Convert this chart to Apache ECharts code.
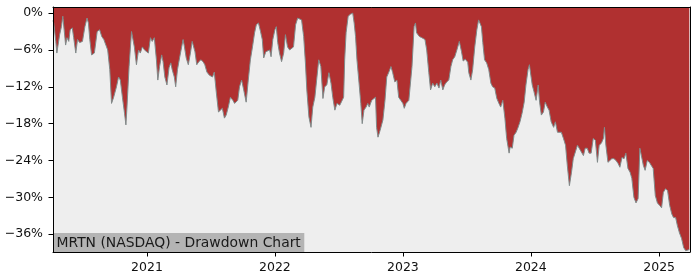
<!DOCTYPE html>
<html>
<head>
<meta charset="utf-8">
<script src="https://cdn.jsdelivr.net/npm/echarts@6/dist/echarts.min.js"></script>
<style>html,body{margin:0;padding:0;background:#fff}#c{width:700px;height:280px}</style>
</head>
<body>
<div id="c"></div>
<script>
// Drawdown (%)
const dates = [
'2020-04-08','2020-04-10','2020-04-16','2020-04-19','2020-04-23','2020-04-27','2020-05-02','2020-05-06','2020-05-10','2020-05-14',
'2020-05-18','2020-05-23','2020-05-27','2020-06-02','2020-06-06','2020-06-12','2020-06-17','2020-06-23','2020-07-01','2020-07-08',
'2020-07-14','2020-07-18','2020-07-22','2020-07-27','2020-08-04','2020-08-12','2020-08-19','2020-08-25','2020-08-31','2020-09-05',
'2020-09-11','2020-09-17','2020-09-22','2020-09-28','2020-10-06','2020-10-12','2020-10-17','2020-10-23','2020-10-29','2020-11-02',
'2020-11-05','2020-11-11','2020-11-18','2020-11-22','2020-11-26','2020-12-02','2020-12-08','2020-12-13','2020-12-19','2020-12-25',
'2020-12-30','2021-01-05','2021-01-11','2021-01-16','2021-01-22','2021-01-28','2021-02-01','2021-02-06','2021-02-12','2021-02-16',
'2021-02-21','2021-02-27','2021-03-05','2021-03-10','2021-03-14','2021-03-20','2021-03-24','2021-03-29','2021-04-04','2021-04-10',
'2021-04-14','2021-04-18','2021-04-23','2021-04-29','2021-05-05','2021-05-10','2021-05-14','2021-05-18','2021-05-23','2021-05-29',
'2021-06-04','2021-06-10','2021-06-15','2021-06-21','2021-06-28','2021-07-07','2021-07-12','2021-07-18','2021-07-24','2021-07-29',
'2021-08-04','2021-08-10','2021-08-15','2021-08-21','2021-08-27','2021-09-03','2021-09-08','2021-09-17','2021-09-22','2021-09-28',
'2021-10-04','2021-10-11','2021-10-17','2021-10-23','2021-10-29','2021-11-04','2021-11-09','2021-11-15','2021-11-21','2021-11-26',
'2021-11-30','2021-12-06','2021-12-11','2021-12-17','2021-12-21','2021-12-26','2022-01-01','2022-01-05','2022-01-09','2022-01-14',
'2022-01-20','2022-01-26','2022-01-31','2022-02-06','2022-02-12','2022-02-17','2022-02-23','2022-03-01','2022-03-07','2022-03-12',
'2022-03-18','2022-03-24','2022-03-29','2022-04-02','2022-04-08','2022-04-14','2022-04-19','2022-04-25','2022-04-30','2022-05-06',
'2022-05-12','2022-05-18','2022-05-23','2022-05-29','2022-06-04','2022-06-10','2022-06-15','2022-06-21','2022-06-27','2022-07-05',
'2022-07-10','2022-07-16','2022-07-19','2022-07-23','2022-07-29','2022-08-04','2022-08-11','2022-08-15','2022-08-19','2022-08-23',
'2022-08-29','2022-09-03','2022-09-07','2022-09-12','2022-09-18','2022-09-23','2022-09-27','2022-10-04','2022-10-09','2022-10-15',
'2022-10-18','2022-10-22','2022-10-28','2022-11-05','2022-11-11','2022-11-16','2022-11-22','2022-11-28','2022-12-03','2022-12-09',
'2022-12-15','2022-12-20','2022-12-26','2023-01-01','2023-01-05','2023-01-10','2023-01-18','2023-01-23','2023-01-27','2023-02-02',
'2023-02-06','2023-02-09','2023-02-17','2023-02-24','2023-03-05','2023-03-10','2023-03-16','2023-03-21','2023-03-27','2023-04-02',
'2023-04-08','2023-04-14','2023-04-19','2023-04-25','2023-04-30','2023-05-06','2023-05-12','2023-05-18','2023-05-23','2023-05-29',
'2023-06-04','2023-06-11','2023-06-17','2023-06-22','2023-06-28','2023-07-05','2023-07-08','2023-07-14','2023-07-19','2023-07-25',
'2023-07-31','2023-08-05','2023-08-09','2023-08-13','2023-08-17','2023-08-22','2023-08-28','2023-09-03','2023-09-09','2023-09-14',
'2023-09-20','2023-09-26','2023-10-02','2023-10-07','2023-10-13','2023-10-19','2023-10-24','2023-10-31','2023-11-03','2023-11-09',
'2023-11-14','2023-11-20','2023-11-25','2023-12-01','2023-12-07','2023-12-13','2023-12-18','2023-12-24','2023-12-28','2024-01-01',
'2024-01-05','2024-01-10','2024-01-16','2024-01-22','2024-01-26','2024-01-31','2024-02-06','2024-02-11','2024-02-17','2024-02-22',
'2024-02-28','2024-03-06','2024-03-11','2024-03-17','2024-03-22','2024-03-28','2024-04-03','2024-04-09','2024-04-14','2024-04-20',
'2024-04-26','2024-05-01','2024-05-07','2024-05-13','2024-05-18','2024-05-24','2024-05-30','2024-06-04','2024-06-10','2024-06-15',
'2024-06-21','2024-06-27','2024-07-03','2024-07-09','2024-07-14','2024-07-20','2024-07-26','2024-07-29','2024-08-02','2024-08-08',
'2024-08-13','2024-08-19','2024-08-25','2024-08-31','2024-09-06','2024-09-11','2024-09-17','2024-09-23','2024-09-28','2024-10-04',
'2024-10-10','2024-10-15','2024-10-21','2024-10-27','2024-11-02','2024-11-07','2024-11-11','2024-11-17','2024-11-22','2024-11-28',
'2024-12-04','2024-12-09','2024-12-15','2024-12-21','2024-12-27','2025-01-02','2025-01-08','2025-01-13','2025-01-19','2025-01-25',
'2025-01-31','2025-02-06','2025-02-11','2025-02-17','2025-02-22','2025-02-28','2025-03-06','2025-03-12','2025-03-18','2025-03-23',
'2025-03-28'
];
const drawdown = [
-1.2,-1.6,-4.6,-6.5,-6.8,-3.5,-2.2,-0.5,-0.2,-5.2,
-4.0,-4.6,-2.7,-2.4,-4.0,-6.5,-4.3,-4.8,-4.6,-2.2,
-0.8,-1.6,-4.3,-6.8,-6.5,-3.0,-2.7,-3.8,-4.3,-4.6,
-6.0,-9.2,-14.7,-13.7,-12.0,-10.4,-10.9,-13.7,-16.3,-18.2,
-15.3,-8.7,-3.0,-3.2,-5.5,-8.4,-6.0,-6.5,-5.5,-6.0,
-5.7,-6.5,-4.0,-4.6,-4.0,-7.6,-10.9,-8.7,-6.8,-7.9,
-10.4,-11.7,-8.9,-8.1,-9.2,-10.4,-12.0,-9.2,-7.3,-5.5,
-4.3,-5.5,-7.3,-8.4,-6.5,-4.6,-4.8,-6.3,-8.4,-7.9,
-7.6,-7.9,-8.4,-9.6,-10.1,-10.4,-9.6,-13.0,-16.1,-16.3,
-15.5,-17.1,-16.6,-15.3,-13.7,-14.2,-14.7,-14.2,-12.0,-10.9,
-12.5,-14.5,-10.9,-7.6,-5.5,-3.2,-1.9,-1.6,-3.0,-4.3,
-7.3,-6.3,-6.3,-6.0,-7.1,-4.3,-2.7,-2.2,-4.8,-6.5,
-7.9,-6.5,-3.5,-5.5,-6.0,-6.3,-5.5,-1.9,-0.8,-0.5,
-1.1,-3.8,-8.1,-12.5,-16.9,-18.6,-15.3,-13.7,-10.9,-7.6,
-8.7,-13.9,-12.0,-11.7,-9.7,-11.4,-13.7,-15.8,-14.7,-15.0,
-14.7,-13.7,-7.6,-3.2,-0.5,-0.2,0,-1.6,-3.8,-7.6,
-11.4,-14.7,-18.0,-15.8,-15.3,-14.7,-15.3,-14.2,-13.9,-13.7,
-18.6,-20.2,-19.1,-17.4,-14.2,-10.4,-9.6,-8.7,-9.7,-11.2,
-10.9,-13.7,-14.2,-14.7,-15.5,-14.7,-14.2,-13.9,-8.7,-2.2,
-1.6,-3.2,-3.8,-4.0,-4.3,-6.0,-9.7,-12.5,-11.4,-12.0,
-11.4,-12.2,-10.9,-12.5,-11.7,-11.2,-10.9,-8.7,-7.6,-7.1,
-6.0,-4.6,-6.2,-7.8,-7.5,-8.0,-9.7,-10.9,-9.2,-5.5,
-2.7,-1.1,-0.8,-2.2,-4.8,-7.6,-8.1,-9.2,-11.4,-12.0,
-12.2,-13.9,-14.7,-15.3,-14.2,-17.1,-20.4,-22.8,-21.8,-22.0,
-19.9,-19.4,-18.7,-17.7,-16.3,-14.5,-11.7,-9.2,-8.4,-10.1,
-11.7,-12.8,-14.2,-11.7,-14.5,-16.6,-16.1,-14.5,-15.3,-15.8,
-17.7,-18.6,-17.7,-19.4,-19.6,-19.4,-20.4,-21.5,-24.8,-28.1,
-25.9,-23.7,-22.6,-21.5,-21.2,-22.6,-23.2,-22.0,-22.0,-22.8,
-22.8,-20.4,-20.7,-24.3,-21.5,-21.2,-20.4,-18.6,-21.5,-24.3,
-24.5,-23.7,-23.7,-24.0,-24.5,-25.1,-23.5,-23.7,-22.8,-25.3,
-25.9,-26.9,-30.0,-30.9,-30.2,-22.0,-22.0,-24.8,-25.6,-24.0,
-24.3,-24.3,-25.3,-29.7,-30.9,-31.3,-31.7,-29.2,-28.6,-28.9,
-31.3,-32.7,-33.3,-33.3,-34.6,-35.8,-36.7,-38.2,-38.7,-38.7,
-38.5
];
const yTicks = [0, -6, -12, -18, -24, -30, -36];
const xTicks = ['2021-01-01', '2022-01-01', '2023-01-01', '2024-01-01', '2025-01-01'];
const xRange = ['2020-04-08', '2025-03-30'];
const yRange = [-38.9, 1.0];
const titleText = 'MRTN (NASDAQ) - Drawdown Chart';

const P = s => Date.parse(s + 'T00:00:00Z');
const seriesData = dates.map((d, i) => [P(d), drawdown[i]]);
const font = 'DejaVu Sans';
const chart = echarts.init(document.getElementById('c'), null, {renderer: 'canvas'});
const fmtPct = v => (v < 0 ? '\u2212' : '') + Math.abs(v) + '%';
chart.setOption({
  animation: false,
  backgroundColor: '#ffffff',
  grid: {left: 53, right: 10, top: 7, bottom: 28, show: true, backgroundColor: '#eeeeee', borderWidth: 0, containLabel: false},
  title: {
    text: titleText, left: 53, bottom: 28, backgroundColor: '#b4b4b4', padding: [3, 3.5, 2, 3.5],
    textStyle: {fontFamily: font, fontSize: 13.9, fontWeight: 'normal', color: '#1a1a1a', lineHeight: 14}, z: 10
  },
  xAxis: [{
    type: 'value', min: P(xRange[0]), max: P(xRange[1]), z: 10, scale: true,
    axisLine: {show: true, onZero: false, lineStyle: {color: '#000', width: 1}},
    axisTick: {show: true, length: 4.5, lineStyle: {color: '#000', width: 1}, customValues: xTicks.map(P)},
    axisLabel: {customValues: xTicks.map(P), formatter: v => String(new Date(v).getUTCFullYear()), margin: 9,
      fontFamily: font, fontSize: 12.5, color: '#111'},
    splitLine: {show: false}
  }, {
    type: 'value', position: 'top', min: P(xRange[0]), max: P(xRange[1]), z: 10, scale: true,
    axisLine: {show: true, onZero: false, lineStyle: {color: '#000', width: 1}},
    axisTick: {show: false}, axisLabel: {show: false}, splitLine: {show: false}
  }],
  yAxis: [{
    type: 'value', min: yRange[0], max: yRange[1], z: 10, position: 'left',
    axisLine: {show: true, onZero: false, lineStyle: {color: '#000', width: 1}},
    axisTick: {show: true, length: 4.5, lineStyle: {color: '#000', width: 1}, customValues: yTicks},
    axisLabel: {customValues: yTicks, formatter: fmtPct, margin: 10, fontFamily: font, fontSize: 12.5, color: '#111'},
    splitLine: {show: false}
  }, {
    type: 'value', min: yRange[0], max: yRange[1], z: 10, position: 'right',
    axisLine: {show: true, onZero: false, lineStyle: {color: '#000', width: 1}},
    axisTick: {show: false}, axisLabel: {show: false}, splitLine: {show: false}
  }],
  series: [{
    type: 'line', data: seriesData, xAxisIndex: 0, yAxisIndex: 0, symbol: 'none', showSymbol: false,
    lineStyle: {color: '#808a8a', width: 1},
    areaStyle: {color: '#b03030', opacity: 1, origin: 'end'},
    z: 2
  }]
});
</script>
</body>
</html>
